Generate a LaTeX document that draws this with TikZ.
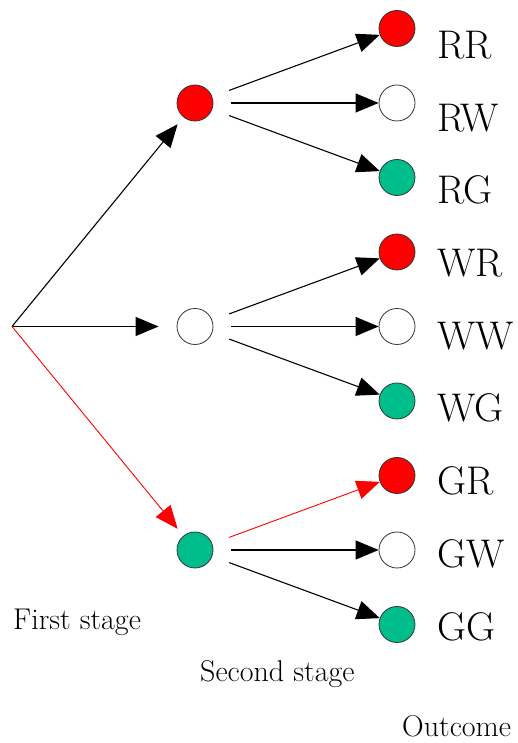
\documentclass[tikz,border=0pt]{standalone}
\usetikzlibrary{arrows.meta}
\definecolor{ballred}{RGB}{255,0,0}
\definecolor{ballgreen}{RGB}{0,190,140}
\tikzset{
  ball/.style={circle, draw=black!80, line width=0.8pt, minimum size=36pt, inner sep=0pt},
  rball/.style={ball, fill=ballred},
  wball/.style={ball, fill=white},
  gball/.style={ball, fill=ballgreen},
  outlbl/.style={anchor=base west, inner sep=0pt, font=\fontsize{40}{45}\selectfont},
  stagelbl/.style={anchor=base west, inner sep=0pt, font=\fontsize{30}{34}\selectfont},
  redge/.style={draw=ballred, line width=0.9pt},
  bedge/.style={draw=black, line width=1.1pt}
}
\begin{document}
\begin{tikzpicture}[x=1pt, y=1pt, grow'=right,
                    edge from parent/.style={draw, line width=1.1pt, -{Triangle[length=23pt, width=19pt]}},
                    level 1/.style={level distance=183pt, sibling distance=223.5pt,
                                    edge from parent/.append style={shorten <=0pt}},
                    level 2/.style={level distance=202pt, sibling distance=74.5pt,
                                    edge from parent/.append style={shorten <=18pt, shorten >=0pt}}]
  \useasboundingbox (0,0) rectangle (518,743);
  \node[coordinate] (root) at (12,416.5) {}
      child {node[rball] (r) {}
          child {node[rball] (rr) {}}
          child {node[wball] (rw) {}}
          child {node[gball] (rg) {}}
          edge from parent[shorten >=9pt]
      }
      child {node[wball] (w) {}
          child {node[rball] (wr) {}}
          child {node[wball] (ww) {}}
          child {node[gball] (wg) {}}
          edge from parent[shorten >=18pt]
      }
      child {node[gball] (g) {}
          child {node[rball] (gr) {} edge from parent[redge]}
          child {node[wball] (gw) {} edge from parent[bedge]}
          child {node[gball] (gg) {} edge from parent[bedge]}
          edge from parent[redge, shorten >=9pt]
      };
  % outcome labels
  \foreach \lab [count=\i from 0] in {RR,RW,RG,WR,WW,WG,GR,GW,GG}
    \node[outlbl] (l\lab) at (437, 684.5-72.7*\i) {\lab};
  % stage labels
  \node[stagelbl] (first) at (13,113) {First stage};
  \node[stagelbl] (second) at (200,61) {Second stage};
  \node[stagelbl] (outcome) at (402,6) {Outcome};
\end{tikzpicture}
\end{document}
